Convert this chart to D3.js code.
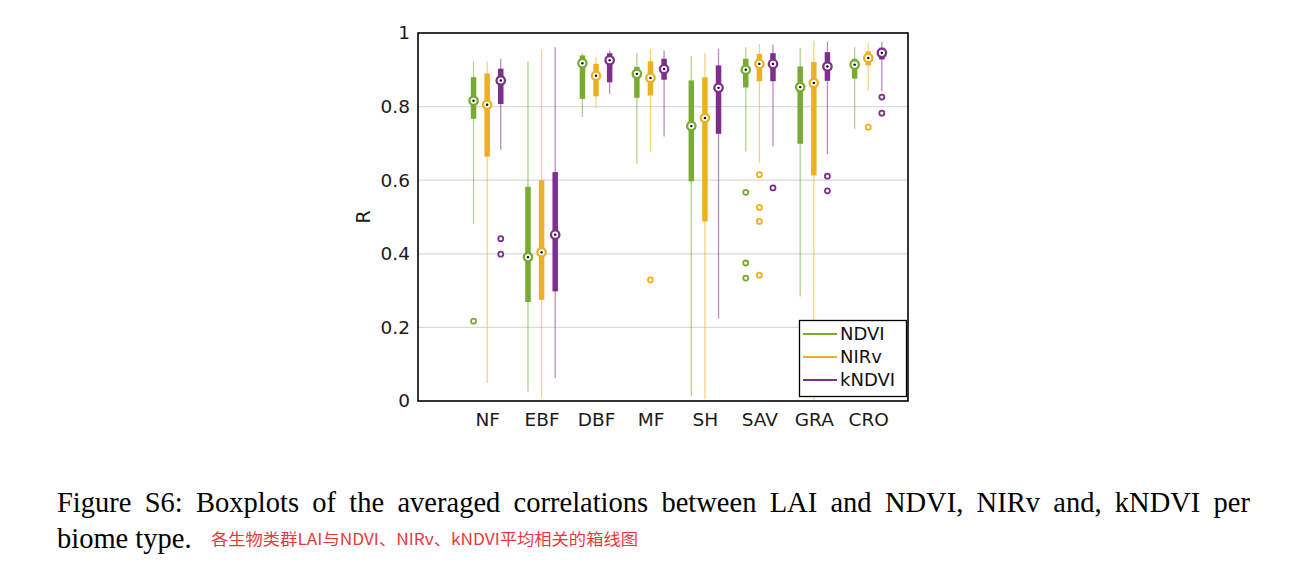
<!DOCTYPE html>
<html>
<head>
<meta charset="utf-8">
<script src="https://cdn.jsdelivr.net/npm/d3@7"></script>
<style>
  html, body { margin: 0; padding: 0; background: #fff; }
  svg { display: block; }
</style>
</head>
<body>
<svg id="chart" width="1291" height="574"></svg>
<script>
// ---------- data ----------
const categories = ["NF", "EBF", "DBF", "MF", "SH", "SAV", "GRA", "CRO"];
const seriesNames = ["NDVI", "NIRv", "kNDVI"];
const yTicks = [0, 0.2, 0.4, 0.6, 0.8, 1];
const yTickLabels = ["0", "0.2", "0.4", "0.6", "0.8", "1"];

// [whiskerLow, q1, median, q3, whiskerHigh] per category
const ndviStats = [
  [0.481, 0.767, 0.816, 0.880, 0.923],
  [0.026, 0.269, 0.391, 0.582, 0.923],
  [0.771, 0.821, 0.918, 0.939, 0.945],
  [0.645, 0.824, 0.889, 0.908, 0.946],
  [0.013, 0.597, 0.747, 0.871, 0.937],
  [0.678, 0.852, 0.900, 0.930, 0.961],
  [0.284, 0.699, 0.853, 0.909, 0.959],
  [0.740, 0.876, 0.914, 0.930, 0.961]
];
const nirvStats = [
  [0.049, 0.664, 0.805, 0.890, 0.923],
  [0.008, 0.275, 0.404, 0.600, 0.955],
  [0.796, 0.828, 0.884, 0.916, 0.935],
  [0.676, 0.830, 0.878, 0.923, 0.957],
  [0.005, 0.488, 0.769, 0.880, 0.946],
  [0.647, 0.869, 0.916, 0.943, 0.970],
  [0.000, 0.613, 0.864, 0.921, 0.979],
  [0.843, 0.912, 0.932, 0.950, 0.973]
];
const kndviStats = [
  [0.683, 0.807, 0.871, 0.903, 0.930],
  [0.062, 0.298, 0.452, 0.622, 0.961],
  [0.834, 0.866, 0.926, 0.945, 0.952],
  [0.719, 0.873, 0.902, 0.930, 0.952],
  [0.224, 0.726, 0.851, 0.912, 0.957],
  [0.692, 0.869, 0.916, 0.945, 0.968],
  [0.671, 0.870, 0.909, 0.948, 0.976],
  [0.841, 0.928, 0.946, 0.960, 0.976]
];
// outliers per category
const ndviOutliers = [[0.217], [], [], [], [], [0.567, 0.375, 0.334], [], []];
const nirvOutliers = [[], [], [], [0.329], [], [0.615, 0.526, 0.488, 0.342], [], [0.744]];
const kndviOutliers = [[0.441, 0.399], [], [], [], [], [0.579], [0.611, 0.571], [0.826, 0.782]];

const seriesColors = ["#77ac30", "#edb120", "#7e2f8e"];
const seriesOffsets = [-0.25, 0, 0.25];

const captionLine1 = "Figure S6: Boxplots of the averaged correlations between LAI and NDVI, NIRv and, kNDVI per";
const captionLine2 = "biome type.";
const captionCN = "各生物类群LAI与NDVI、NIRv、kNDVI平均相关的箱线图";

// ---------- layout ----------
const svg = d3.select("#chart");
const plot = { left: 418, right: 908, top: 33, bottom: 401 };

const x = d3.scaleLinear().domain([-1.27, 7.73]).range([plot.left, plot.right]);
const y = d3.scaleLinear().domain([0, 1]).range([plot.bottom, plot.top]);

// gridlines
svg.append("g").selectAll("line")
  .data(yTicks.filter(t => t > 0 && t < 1))
  .join("line")
  .attr("x1", plot.left).attr("x2", plot.right)
  .attr("y1", d => y(d)).attr("y2", d => y(d))
  .attr("stroke", "#d9d9d9").attr("stroke-width", 1.3);

// y axis labels via d3 axis
const yAxis = d3.axisLeft(y).tickValues(yTicks)
  .tickFormat((d, i) => yTickLabels[i]).tickSize(0).tickPadding(8);
const gy = svg.append("g").attr("transform", `translate(${plot.left},0)`).call(yAxis);
gy.select(".domain").remove();
gy.selectAll("text").attr("font-family", "DejaVu Sans").attr("font-size", 18.5).attr("fill", "#1a1a1a");

// x axis labels
const xAxis = d3.axisBottom(x).tickValues(d3.range(categories.length))
  .tickFormat(i => categories[i]).tickSize(0).tickPadding(12);
const gx = svg.append("g").attr("transform", `translate(0,${plot.bottom})`).call(xAxis);
gx.select(".domain").remove();
gx.selectAll("text").attr("font-family", "DejaVu Sans").attr("font-size", 18.5).attr("fill", "#1a1a1a");

// y label
svg.append("text")
  .attr("transform", `translate(370,${(plot.top + plot.bottom) / 2}) rotate(-90)`)
  .attr("text-anchor", "middle")
  .attr("font-family", "DejaVu Sans").attr("font-size", 19).attr("fill", "#1a1a1a")
  .text("R");

// ---------- boxplots ----------
const allStats = [ndviStats, nirvStats, kndviStats];
const allOutliers = [ndviOutliers, nirvOutliers, kndviOutliers];
const gBoxes = svg.append("g");

allStats.forEach((stats, s) => {
  const col = seriesColors[s];
  const g = gBoxes.append("g");
  const xp = i => x(i + seriesOffsets[s]);
  g.selectAll("line.wh").data(stats).join("line")
    .attr("class", "wh")
    .attr("x1", (d, i) => xp(i)).attr("x2", (d, i) => xp(i))
    .attr("y1", d => y(d[0])).attr("y2", d => y(d[4]))
    .attr("stroke", col).attr("stroke-width", 1.3).attr("stroke-opacity", 0.55);
  g.selectAll("line.bx").data(stats).join("line")
    .attr("class", "bx")
    .attr("x1", (d, i) => xp(i)).attr("x2", (d, i) => xp(i))
    .attr("y1", d => y(d[1])).attr("y2", d => y(d[3]))
    .attr("stroke", col).attr("stroke-width", 5.5);
});

allStats.forEach((stats, s) => {
  const col = seriesColors[s];
  const g = gBoxes.append("g");
  const xp = i => x(i + seriesOffsets[s]);
  g.selectAll("circle.med").data(stats).join("circle")
    .attr("class", "med")
    .attr("cx", (d, i) => xp(i)).attr("cy", d => y(d[2])).attr("r", 4.2)
    .attr("fill", "#fff").attr("stroke", col).attr("stroke-width", 2.3);
  g.selectAll("circle.dot").data(stats).join("circle")
    .attr("class", "dot")
    .attr("cx", (d, i) => xp(i)).attr("cy", d => y(d[2])).attr("r", 1.2)
    .attr("fill", "#000");
  const outs = [];
  allOutliers[s].forEach((arr, i) => arr.forEach(v => outs.push({ i, v })));
  g.selectAll("circle.out").data(outs).join("circle")
    .attr("class", "out")
    .attr("cx", d => xp(d.i)).attr("cy", d => y(d.v)).attr("r", 2.5)
    .attr("fill", "#fff").attr("stroke", col).attr("stroke-width", 1.8);
});

// legend
const lg = svg.append("g");
lg.append("rect").attr("x", 799.5).attr("y", 320.5).attr("width", 107).attr("height", 76)
  .attr("fill", "#fff").attr("stroke", "#000").attr("stroke-width", 1.3);
seriesNames.forEach((name, s) => {
  const yy = 334 + s * 23;
  lg.append("line").attr("x1", 803).attr("x2", 837).attr("y1", yy).attr("y2", yy)
    .attr("stroke", seriesColors[s]).attr("stroke-width", 2);
  lg.append("text").attr("x", 840).attr("y", yy).attr("dy", "0.36em")
    .attr("font-family", "DejaVu Sans").attr("font-size", 18).attr("fill", "#111")
    .text(name);
});

// frame
svg.append("rect").attr("x", plot.left).attr("y", plot.top)
  .attr("width", plot.right - plot.left).attr("height", plot.bottom - plot.top)
  .attr("fill", "none").attr("stroke", "#000").attr("stroke-width", 1.6);

// caption (justified first line via word-spacing)
const cap1 = svg.append("text").attr("x", 57).attr("y", 512)
  .attr("font-family", "Liberation Serif").attr("font-size", 28.5).attr("fill", "#000")
  .text(captionLine1);
const natural = cap1.node().getComputedTextLength();
const nSpaces = captionLine1.split(" ").length - 1;
const extra = (1193 - natural) / nSpaces;
if (extra > 0) cap1.attr("word-spacing", extra);
else cap1.attr("textLength", 1193).attr("lengthAdjust", "spacingAndGlyphs");

svg.append("text").attr("x", 57).attr("y", 548)
  .attr("font-family", "Liberation Serif").attr("font-size", 28.5).attr("fill", "#000")
  .text(captionLine2);
svg.append("text").attr("x", 211).attr("y", 545)
  .attr("font-family", "Noto Sans CJK SC").attr("font-size", 15.5).attr("fill", "#e8383d")
  .attr("textLength", 427).attr("lengthAdjust", "spacingAndGlyphs")
  .text(captionCN);
</script>
</body>
</html>
